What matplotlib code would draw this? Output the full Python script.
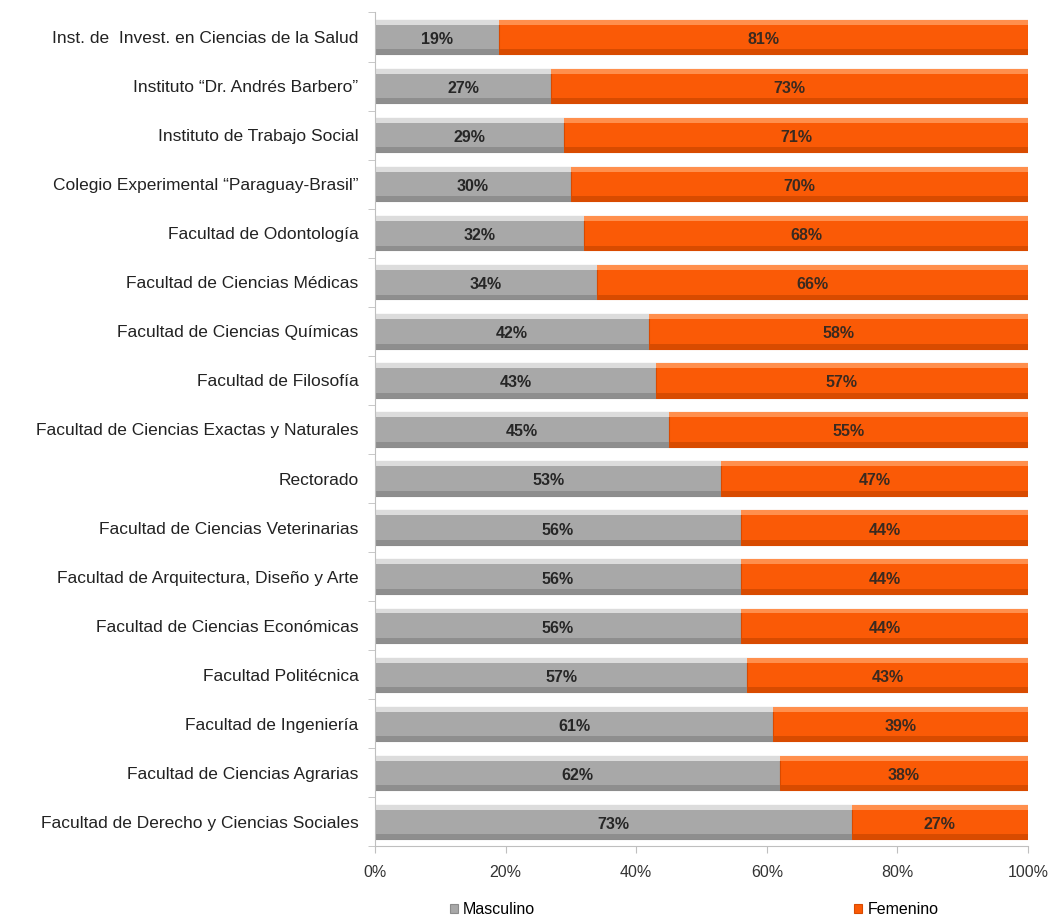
import matplotlib.pyplot as plt
import numpy as np

plt.rcParams['font.family'] = ['Liberation Sans', 'DejaVu Sans']

categorias = [
    "Inst. de  Invest. en Ciencias de la Salud",
    "Instituto \u201cDr. Andrés Barbero\u201d",
    "Instituto de Trabajo Social",
    "Colegio Experimental \u201cParaguay-Brasil\u201d",
    "Facultad de Odontología",
    "Facultad de Ciencias Médicas",
    "Facultad de Ciencias Químicas",
    "Facultad de Filosofía",
    "Facultad de Ciencias Exactas y Naturales",
    "Rectorado",
    "Facultad de Ciencias Veterinarias",
    "Facultad de Arquitectura, Diseño y Arte",
    "Facultad de Ciencias Económicas",
    "Facultad Politécnica",
    "Facultad de Ingeniería",
    "Facultad de Ciencias Agrarias",
    "Facultad de Derecho y Ciencias Sociales",
]
masculino = [19, 27, 29, 30, 32, 34, 42, 43, 45, 53, 56, 56, 56, 57, 61, 62, 73]
femenino = [81, 73, 71, 70, 68, 66, 58, 57, 55, 47, 44, 44, 44, 43, 39, 38, 27]

gris = '#a8a8a8'
naranja = '#fa5a06'

fig = plt.figure(figsize=(10.55, 9.17), dpi=100)
ax = fig.add_axes([0.3555, 0.0769, 0.6189, 0.9095])

y = np.arange(len(categorias))
h = 0.7
b1 = ax.barh(y, masculino, height=h, color=gris, edgecolor='#8c8c8c', linewidth=0.8, label='Masculino')
b2 = ax.barh(y, femenino, height=h, left=masculino, color=naranja, edgecolor='#d94a00', linewidth=0.8, label='Femenino')

# brillo superior y sombra inferior
ax.barh(y - h / 2 + 0.05, masculino, height=0.1, color='#dcdcdc', linewidth=0)
ax.barh(y + h / 2 - 0.05, masculino, height=0.1, color='#8e8e8e', linewidth=0)
ax.barh(y - h / 2 + 0.05, femenino, left=masculino, height=0.1, color='#ff8f4d', linewidth=0)
ax.barh(y + h / 2 - 0.05, femenino, left=masculino, height=0.1, color='#d84b00', linewidth=0)

for i in range(len(categorias)):
    ax.text(masculino[i] / 2, y[i] + 0.05, f'{masculino[i]}%', ha='center', va='center',
            fontsize=11.5, fontweight='bold', color='#262626')
    ax.text(masculino[i] + femenino[i] / 2, y[i] + 0.05, f'{femenino[i]}%', ha='center', va='center',
            fontsize=11.5, fontweight='bold', color='#3a2a20')

ax.set_xlim(0, 100)
ax.set_ylim(len(categorias) - 0.5, -0.5)
ax.set_xticks([0, 20, 40, 60, 80, 100])
ax.set_xticklabels(['0%', '20%', '40%', '60%', '80%', '100%'], fontsize=11.5, color='#333333')
ax.set_yticks(y)
ax.set_yticklabels(categorias, fontsize=12.5, color='#222222')
ax.set_yticks(np.arange(len(categorias) + 1) - 0.5, minor=True)
ax.tick_params(axis='y', which='major', length=0, pad=12)
ax.tick_params(axis='y', which='minor', length=5, color='#bfbfbf')
ax.tick_params(axis='x', length=5, color='#bfbfbf', pad=8)

for s in ['top', 'right']:
    ax.spines[s].set_visible(False)
ax.spines['left'].set_color('#bfbfbf')
ax.spines['bottom'].set_color('#bfbfbf')

leg = fig.legend(handles=[b1, b2], labels=['Masculino', 'Femenino'], loc='lower center',
                 bbox_to_anchor=(0.658, -0.016), ncol=2, frameon=False, fontsize=11.5,
                 handlelength=0.5, handleheight=0.5, handletextpad=0.3, columnspacing=20)

fig.savefig('out.png', dpi=100)
